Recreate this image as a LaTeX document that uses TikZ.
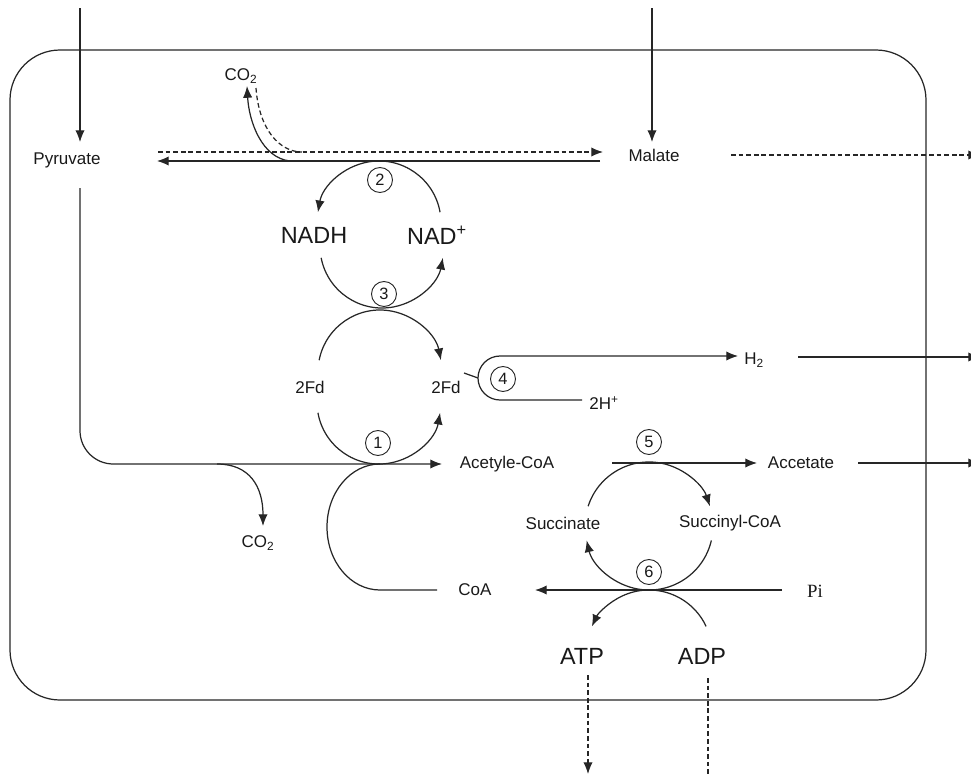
\documentclass[tikz,border=0pt]{standalone}
\usepackage{fontspec}
\setmainfont{Liberation Sans}
\newfontfamily\serifpi{Liberation Serif}
\usetikzlibrary{arrows.meta}
\begin{document}
\begin{tikzpicture}[x=0.03cm,y=0.03cm,
  line/.style={draw=black!85, line width=1.05pt},
  arr/.style={line, -{Latex[length=10pt,width=8pt]}},
  darr/.style={arr, dash pattern=on 4pt off 2.5pt},
  dline/.style={line, dash pattern=on 4pt off 2.5pt},
  lbl/.style={font=\fontsize{14.5pt}{16pt}\selectfont, inner sep=1pt, text=black!90},
  big/.style={font=\fontsize{20pt}{22pt}\selectfont, inner sep=1pt, text=black!90},
  num/.style={circle, draw=black!85, line width=0.8pt, minimum size=0.75cm, inner sep=0pt, font=\fontsize{14pt}{15pt}\selectfont, text=black!90}
]
\useasboundingbox (0,0) rectangle (971,-776);
% cell
\draw[line, rounded corners=1.5cm] (10,-50) rectangle (926,-700);

% labels
\node[lbl] (pyr) at (67,-160) {Pyruvate};
\node[lbl] (mal) at (654,-155) {Malate};
\node[lbl] (co2a) at (241,-76) {CO\textsubscript{2}};
\node[big] (nadh) at (314,-235) {NADH};
\node[big] (nad) at (437,-235) {NAD\textsuperscript{+}};
\node[lbl] (fdl) at (310,-387) {2Fd};
\node[lbl] (fdr) at (446,-387) {2Fd};
\node[lbl] (acoa) at (507,-464) {Acetyle-CoA};
\node[lbl] (co2b) at (258,-543) {CO\textsubscript{2}};
\node[lbl] (h2) at (754,-360) {H\textsubscript{2}};
\node[lbl] (hp) at (604,-403) {2H\textsuperscript{+}};
\node[lbl] (acet) at (801,-463) {Accetate};
\node[lbl] (succ) at (563,-523) {Succinate};
\node[lbl] (sucoa) at (730,-523) {Succinyl-CoA};
\node[lbl] (coa) at (475,-590) {CoA};
\node[lbl] (pi) at (815,-591) {\serifpi\fontsize{16pt}{17pt}\selectfont Pi};
\node[big] (atp) at (582,-656) {ATP};
\node[big] (adp) at (702,-656) {ADP};

% numbered enzymes
\node[num] (n2) at (380,-180) {2};
\node[num] (n3) at (384,-294) {3};
\node[num] (n1) at (378,-443) {1};
\node[num] (n4) at (503,-379) {4};
\node[num] (n5) at (649,-442) {5};
\node[num] (n6) at (649,-572) {6};

% inputs from top
\coordinate (pyrtop) at (80,-8);
\coordinate (pyrin) at (80,-142);
\draw[arr] (pyrtop) -- (pyrin);
\coordinate (maltop) at (652,-8);
\coordinate (malin) at (652,-142);
\draw[arr] (maltop) -- (malin);

% pyruvate <-> malate
\coordinate (dA) at (158,-152);
\coordinate (dB) at (603,-152);
\draw[darr] (dA) -- (dB);
\coordinate (sA) at (600,-161);
\coordinate (sB) at (157,-161);
\draw[arr] (sA) -- (sB);

% CO2 top
\coordinate (c1s) at (290,-161);
\coordinate (c1e) at (247,-86);
\draw[arr] (c1s) .. controls (262,-158) and (249,-122) .. (c1e);
\coordinate (c2s) at (256,-88);
\coordinate (c2e) at (302,-152);
\draw[dline] (c2s) .. controls (259,-130) and (280,-152) .. (c2e);

% malate out
\coordinate (mo1) at (731,-155);
\coordinate (mo2) at (980,-155);
\draw[darr] (mo1) -- (mo2);

% loop 2 (NAD+ -> NADH)
\coordinate (l2s) at (440.06,-212.23);
\draw[arr] (l2s) arc[start angle=10,end angle=170,radius=62];
% loop 3 upper (NADH -> NAD+)
\coordinate (l3s) at (321.14,-257.83);
\draw[arr] (l3s) arc[start angle=191,end angle=349,radius=62];
% loop 3 lower (2Fd -> 2Fd)
\coordinate (l3t) at (319.14,-360.17);
\draw[arr] (l3t) arc[start angle=169,end angle=11,radius=62];
% loop 1 (2Fd -> 2Fd)
\coordinate (l1s) at (317.94,-412.77);
\draw[arr] (l1s) arc[start angle=190,end angle=350,radius=62];

% pyruvate -> acetyl-CoA
\coordinate (pyrout) at (80,-188);
\coordinate (acin) at (442,-464);
\draw[arr, rounded corners=1cm] (pyrout) -- (80,-464) -- (acin);
% CO2 lower
\coordinate (c3s) at (217,-464);
\coordinate (c3e) at (263,-526);
\draw[arr] (c3s) .. controls (250,-464) and (263,-487) .. (c3e);
% CoA loop
\coordinate (coaout) at (437,-590);
\draw[line] (coaout) -- (380,-590) arc[start angle=270,end angle=90,x radius=53,y radius=63];

% hydrogenase hairpin
\coordinate (hs) at (582,-400);
\coordinate (he) at (738,-356);
\draw[arr] (hs) -- (500,-400) arc[start angle=270,end angle=90,radius=22] -- (he);
\coordinate (tk1) at (464,-373);
\coordinate (tk2) at (478,-378);
\draw[line] (tk1) -- (tk2);
\coordinate (h2o1) at (798,-357);
\coordinate (h2o2) at (980,-357);
\draw[arr] (h2o1) -- (h2o2);

% acetate
\coordinate (ac1) at (612,-463);
\coordinate (ac2) at (757,-463);
\draw[arr] (ac1) -- (ac2);
\coordinate (ac3) at (858,-463);
\coordinate (ac4) at (980,-463);
\draw[arr] (ac3) -- (ac4);

% loop 5 (Succinate -> Succinyl-CoA)
\coordinate (l5s) at (588.13,-506.22);
\draw[arr] (l5s) arc[start angle=162,end angle=18,radius=64];
% loop 6 (Succinyl-CoA -> Succinate)
\coordinate (l6s) at (711.36,-540.40);
\draw[arr] (l6s) arc[start angle=-13,end angle=-167,radius=64];

% Pi -> CoA
\coordinate (pi1) at (782,-590);
\coordinate (coain) at (535,-590);
\draw[arr] (pi1) -- (coain);

% ADP -> ATP
\coordinate (adps) at (706.10,-626.38);
\draw[arr] (adps) arc[start angle=25,end angle=155,radius=63];

% ATP / ADP exchange
\coordinate (atp1) at (588,-675);
\coordinate (atp2) at (588,-774);
\draw[darr] (atp1) -- (atp2);
\coordinate (adp1) at (708,-678);
\coordinate (adp2) at (708,-790);
\draw[dline] (adp1) -- (adp2);
\end{tikzpicture}
\end{document}
